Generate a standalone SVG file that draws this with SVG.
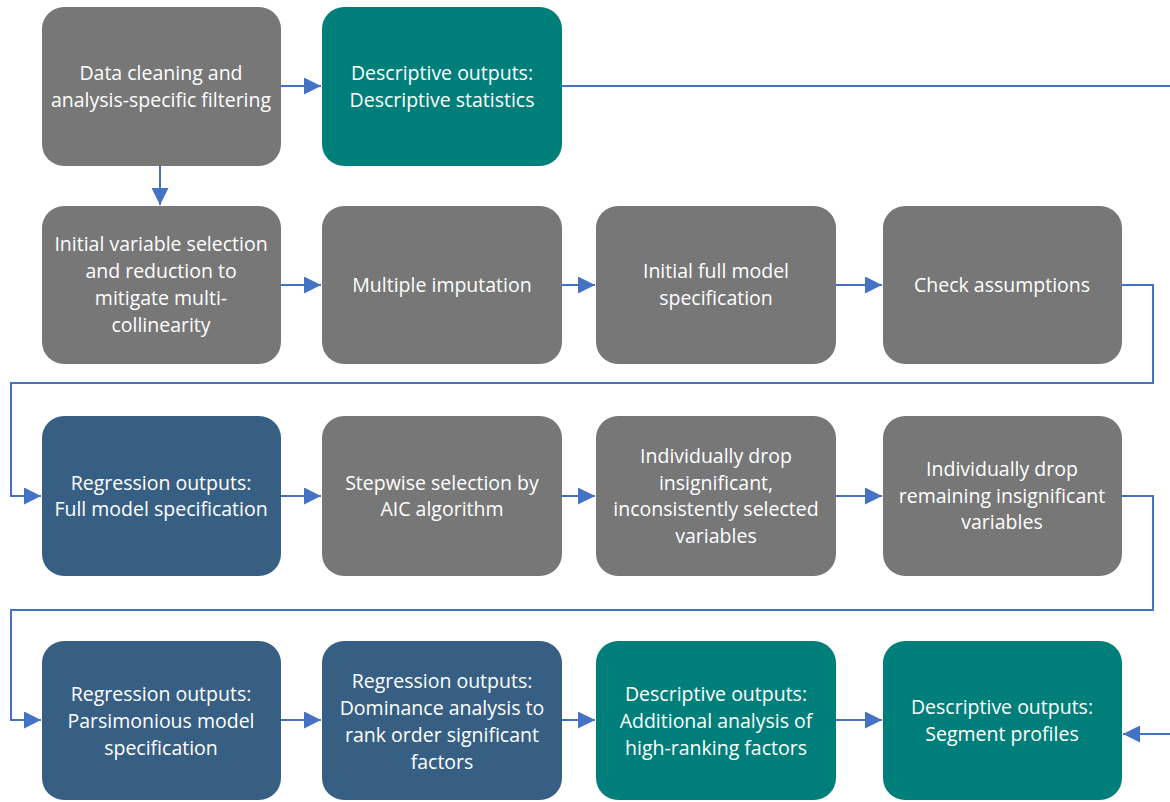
<svg xmlns="http://www.w3.org/2000/svg" width="1170" height="802" viewBox="0 0 1170 802">
<style>
.g{fill:#777777}
.t{fill:#007f7a}
.b{fill:#375f84}
text{font-family:"Open Sans","Noto Sans",sans-serif;font-size:19.5px;fill:#ffffff;text-anchor:middle}
.c{fill:none;stroke:#4472c4;stroke-width:2}
</style>
<defs>
<marker id="ah" viewBox="0 0 10 10" refX="10" refY="5" markerWidth="17" markerHeight="17" markerUnits="userSpaceOnUse" orient="auto">
<path d="M0,0 L10,5 L0,10 z" fill="#4472c4"/>
</marker>
</defs>
<rect width="1170" height="802" fill="#ffffff"/>
<g id="connectors">
<path class="c" d="M281,86 H321" marker-end="url(#ah)"/>
<path class="c" d="M562,86 H1175 V734 H1123" marker-end="url(#ah)"/>
<path class="c" d="M160,166 V205" marker-end="url(#ah)"/>
<path class="c" d="M281,285 H321" marker-end="url(#ah)"/>
<path class="c" d="M562,285 H595" marker-end="url(#ah)"/>
<path class="c" d="M836,285 H882" marker-end="url(#ah)"/>
<path class="c" d="M1122,285 H1153 V383 H11 V496 H41" marker-end="url(#ah)"/>
<path class="c" d="M281,496 H321" marker-end="url(#ah)"/>
<path class="c" d="M562,496 H595" marker-end="url(#ah)"/>
<path class="c" d="M836,496 H882" marker-end="url(#ah)"/>
<path class="c" d="M1122,496 H1153 V610 H11 V720 H41" marker-end="url(#ah)"/>
<path class="c" d="M281,720 H321" marker-end="url(#ah)"/>
<path class="c" d="M562,720 H595" marker-end="url(#ah)"/>
<path class="c" d="M836,720 H882" marker-end="url(#ah)"/>
</g>
<g id="n1"><rect class="g" x="42" y="7" width="239" height="159" rx="22"/>
<text x="161" y="80">Data cleaning and</text><text x="161" y="107">analysis-specific filtering</text></g>
<g id="n2"><rect class="t" x="322" y="7" width="240" height="159" rx="22"/>
<text x="442" y="80">Descriptive outputs:</text><text x="442" y="107">Descriptive statistics</text></g>
<g id="n3"><rect class="g" x="42" y="206" width="239" height="158" rx="22"/>
<text x="161" y="251">Initial variable selection</text><text x="161" y="278">and reduction to</text><text x="161" y="305">mitigate multi-</text><text x="161" y="332">collinearity</text></g>
<g id="n4"><rect class="g" x="322" y="206" width="240" height="158" rx="22"/>
<text x="442" y="292">Multiple imputation</text></g>
<g id="n5"><rect class="g" x="596" y="206" width="240" height="158" rx="22"/>
<text x="716" y="278">Initial full model</text><text x="716" y="305">specification</text></g>
<g id="n6"><rect class="g" x="883" y="206" width="239" height="158" rx="22"/>
<text x="1002" y="292">Check assumptions</text></g>
<g id="n7"><rect class="b" x="42" y="416" width="239" height="160" rx="22"/>
<text x="161" y="490">Regression outputs:</text><text x="161" y="516">Full model specification</text></g>
<g id="n8"><rect class="g" x="322" y="416" width="240" height="160" rx="22"/>
<text x="442" y="490">Stepwise selection by</text><text x="442" y="516">AIC algorithm</text></g>
<g id="n9"><rect class="g" x="596" y="416" width="240" height="160" rx="22"/>
<text x="716" y="463">Individually drop</text><text x="716" y="490">insignificant,</text><text x="716" y="516">inconsistently selected</text><text x="716" y="543">variables</text></g>
<g id="n10"><rect class="g" x="883" y="416" width="239" height="160" rx="22"/>
<text x="1002" y="476">Individually drop</text><text x="1002" y="503">remaining insignificant</text><text x="1002" y="529">variables</text></g>
<g id="n11"><rect class="b" x="42" y="641" width="239" height="159" rx="22"/>
<text x="161" y="701">Regression outputs:</text><text x="161" y="728">Parsimonious model</text><text x="161" y="755">specification</text></g>
<g id="n12"><rect class="b" x="322" y="641" width="240" height="159" rx="22"/>
<text x="442" y="688">Regression outputs:</text><text x="442" y="715">Dominance analysis to</text><text x="442" y="742">rank order significant</text><text x="442" y="769">factors</text></g>
<g id="n13"><rect class="t" x="596" y="641" width="240" height="159" rx="22"/>
<text x="716" y="701">Descriptive outputs:</text><text x="716" y="728">Additional analysis of</text><text x="716" y="755">high-ranking factors</text></g>
<g id="n14"><rect class="t" x="883" y="641" width="239" height="159" rx="22"/>
<text x="1002" y="714">Descriptive outputs:</text><text x="1002" y="741">Segment profiles</text></g>
</svg>
